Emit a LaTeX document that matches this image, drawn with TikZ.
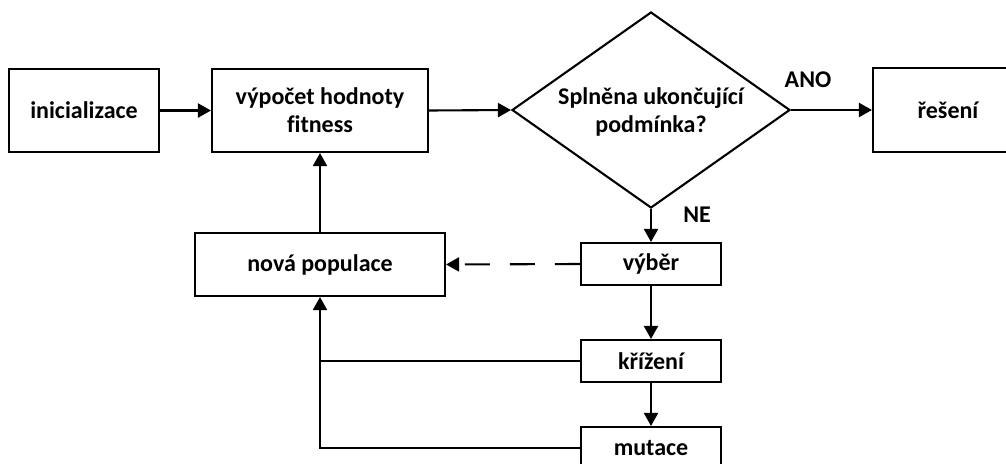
\documentclass[tikz,border=0pt]{standalone}
\usepackage{fontspec}
\setmainfont{Carlito}[Ligatures=NoCommon]
\usetikzlibrary{shapes.geometric,arrows.meta}
\begin{document}
\begin{tikzpicture}[x=1pt,y=-1pt,
  every node/.style={font=\fontsize{24}{28}\selectfont\bfseries},
  box/.style={draw,line width=2.1pt,inner sep=0pt,align=center},
  conn/.style={line width=2.1pt,-{Triangle[length=13pt,width=14pt]}},
  plain/.style={line width=2.1pt}]
\path[use as bounding box] (0,0) rectangle (1006,463);
\clip (0,0) rectangle (1006,463);
\node[box,minimum width=150pt,minimum height=83pt] (init) at (84,110.5) {inicializace};
\node[box,minimum width=216pt,minimum height=83pt] (fit) at (320,110.5) {výpočet hodnoty\\fitness};
\node[draw,diamond,line width=2.1pt,minimum width=278pt,minimum height=196pt,inner sep=0pt] (dec) at (651,110) {};
\node[align=center] (q) at (651,112) {Splněna ukončující\\podmínka?};
\node[box,minimum width=150pt,minimum height=84pt] (sol) at (948,110) {řešení};
\node (ano) at (808,80) {ANO};
\node (ne) at (697,215) {NE};
\node[box,minimum width=250pt,minimum height=63pt] (new) at (320,264.5) {nová populace};
\node[box,minimum width=140pt,minimum height=42pt] (sel) at (651,264) {výběr};
\node[box,minimum width=140pt,minimum height=42pt] (cross) at (651,361) {křížení};
\node[box,minimum width=140pt,minimum height=42pt] (mut) at (651,448) {mutace};
\draw[conn] (init.east) -- (fit.west);
\draw[conn] (fit.east) -- (dec.west);
\draw[conn] (dec.east) -- (sol.west);
\draw[conn] (dec.south) -- (sel.north);
\draw[conn] (sel.south) -- (cross.north);
\draw[conn] (cross.south) -- (mut.north);
\draw[conn,dash pattern=on 25pt off 20pt] (sel.west) -- (new.east);
\draw[plain] (cross.west) -- (cross.west -| new.south);
\draw[conn] (mut.west) -| (new.south);
\draw[conn] (new.north) -- (fit.south);
\end{tikzpicture}
\end{document}
